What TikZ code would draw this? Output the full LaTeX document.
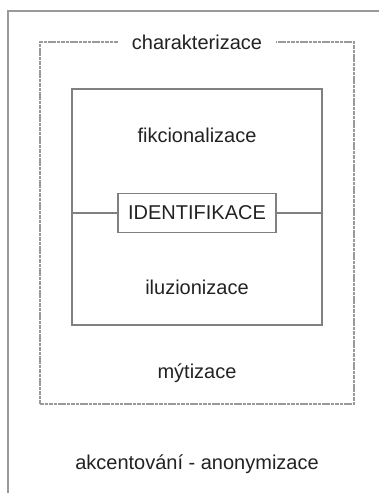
\documentclass[tikz,border=0pt]{standalone}
\usepackage{fontspec}
\setmainfont{Liberation Sans}
\definecolor{linegray}{HTML}{808080}
\definecolor{dashgray}{HTML}{9A9A9A}
\definecolor{textgray}{HTML}{222222}
\begin{document}
\begin{tikzpicture}[x=0.5pt,y=-0.5pt,
  label/.style={text=textgray,font=\fontsize{10}{12}\selectfont,inner sep=0pt},
  dashframe/.style={draw=dashgray,line width=0.6pt,dash pattern=on 1.8pt off 0.4pt},
  innerbox/.style={draw=linegray,line width=0.6pt}]
\useasboundingbox (0,0) rectangle (379,493);
% outer frame, only its top and left edges are seen
\draw[linegray!80,line width=1pt] (8,495) -- (8,11) -- (381,11);

\node[label,fill=white,minimum width=79pt,minimum height=12pt] (char) at (197,42) {charakterizace};
\draw[dashframe] (char.west) -- (40,42) -- (40,404) -- (354,404) -- (354,42) -- (char.east);

\draw[innerbox] (72,89) rectangle (322,325);
\coordinate (inl) at (72,213);
\coordinate (inr) at (322,213);

\node[label] (fikc) at (197,135) {fikcionalizace};
\node[label,draw=linegray,line width=0.6pt,minimum width=79pt,minimum height=19.5pt] (ident) at (197,213) {IDENTIFIKACE};
\node[label] (iluz) at (197,287) {iluzionizace};
\draw[innerbox] (inl) -- (ident.west);
\draw[innerbox] (ident.east) -- (inr);

\node[label] (myt) at (197,373) {mýtizace};
\node[label] (akc) at (197,464) {akcentování - anonymizace};
\end{tikzpicture}
\end{document}
